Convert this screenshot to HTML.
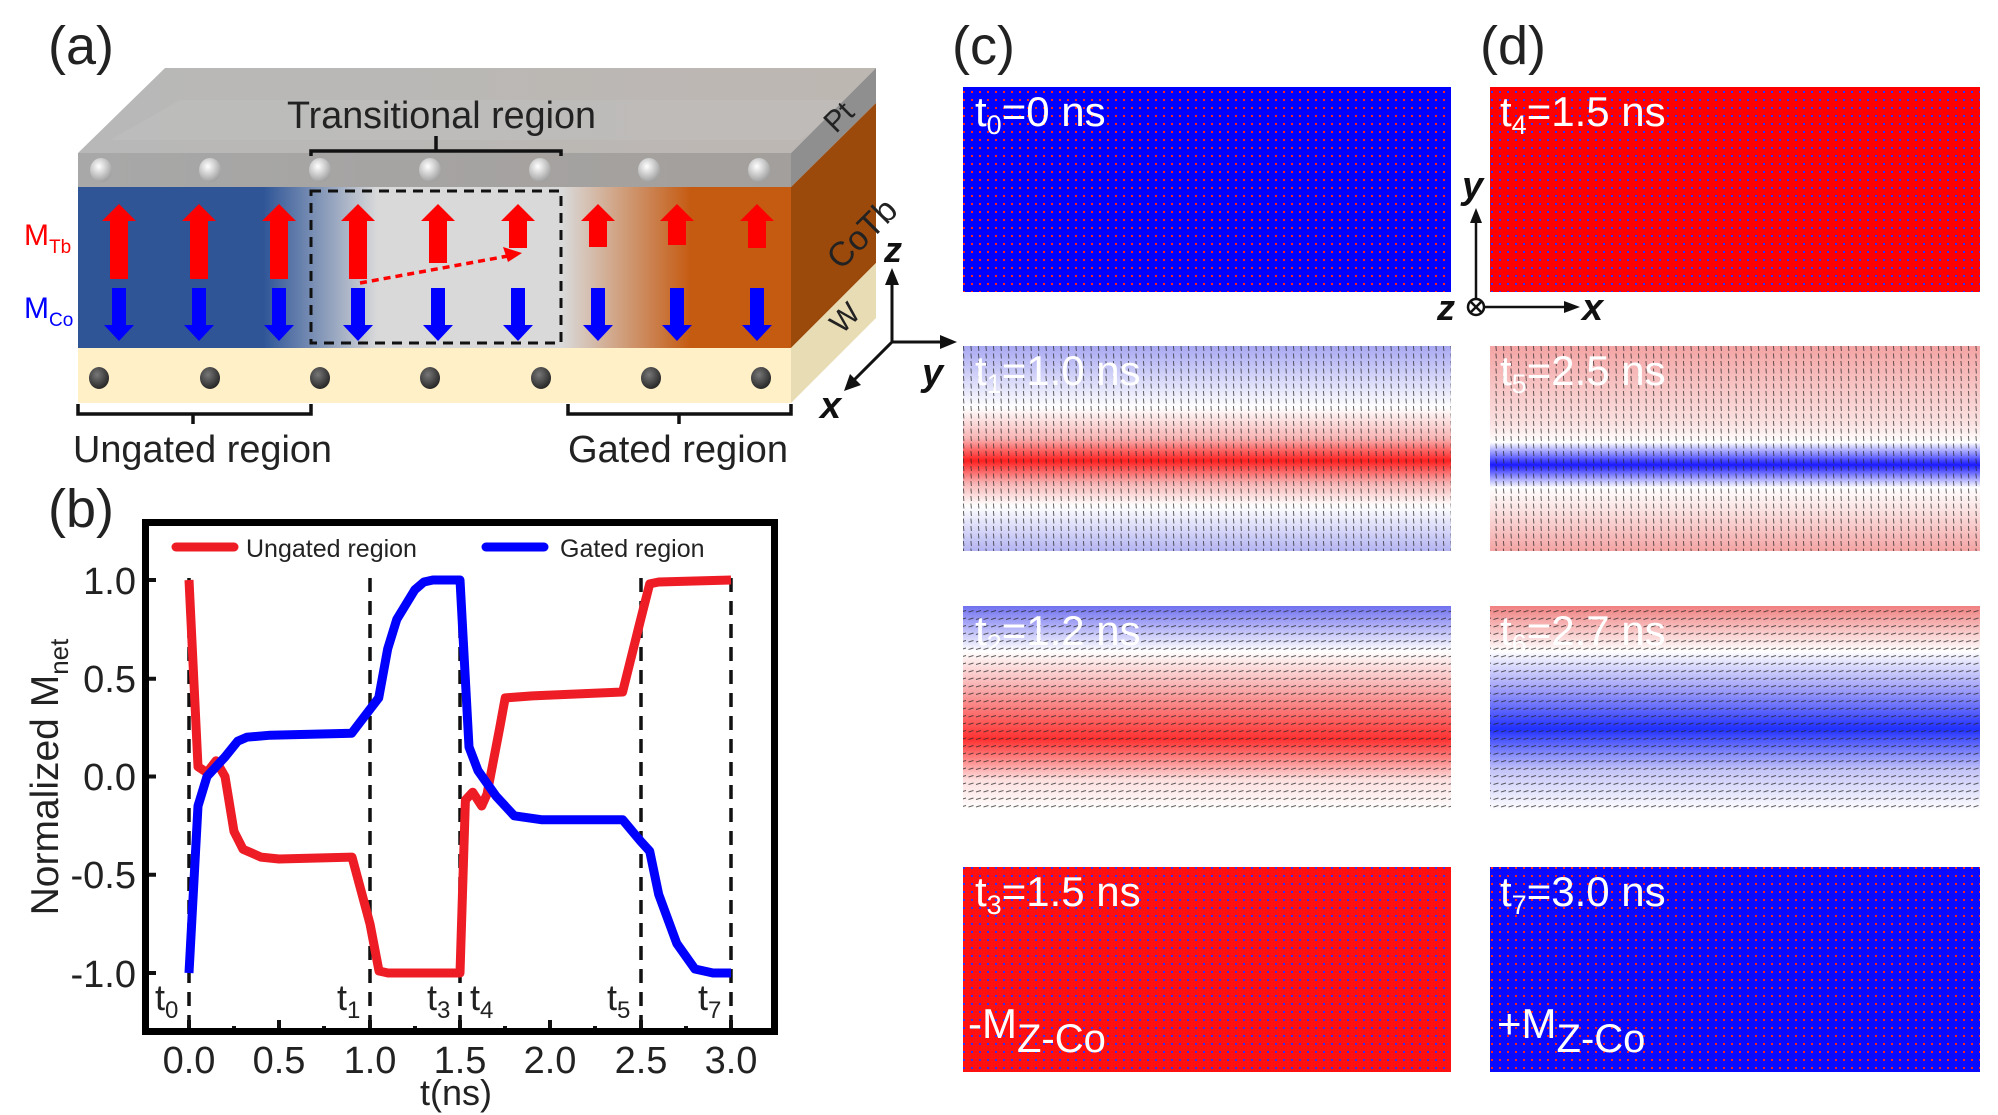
<!DOCTYPE html>
<html><head><meta charset="utf-8"><style>
html,body{margin:0;padding:0;background:#fff}
svg{display:block}
text{font-family:"Liberation Sans",sans-serif}
</style></head><body>
<svg width="1998" height="1115" viewBox="0 0 1998 1115" xmlns="http://www.w3.org/2000/svg">
<defs>
<linearGradient id="front" x1="78" y1="0" x2="791" y2="0" gradientUnits="userSpaceOnUse">
<stop offset="0" stop-color="#2f5597"/><stop offset="0.26" stop-color="#2f5597"/>
<stop offset="0.42" stop-color="#d9d9d9"/><stop offset="0.68" stop-color="#d9d9d9"/>
<stop offset="0.86" stop-color="#c55a11"/><stop offset="1" stop-color="#c55a11"/></linearGradient>
<linearGradient id="ptf" x1="0" y1="0" x2="1" y2="0"><stop offset="0" stop-color="#a8a8a8"/><stop offset="1" stop-color="#a39f9c"/></linearGradient>
<linearGradient id="topf" x1="0" y1="0" x2="1" y2="0"><stop offset="0" stop-color="#b8b8b8"/><stop offset="1" stop-color="#bdb7b2"/></linearGradient>
<radialGradient id="ballw" cx="0.4" cy="0.35" r="0.7"><stop offset="0" stop-color="#fff"/><stop offset="1" stop-color="#9a9a9a"/></radialGradient>
<radialGradient id="balld" cx="0.4" cy="0.35" r="0.7"><stop offset="0" stop-color="#777"/><stop offset="1" stop-color="#222"/></radialGradient>
<pattern id="pr" width="8" height="8" patternUnits="userSpaceOnUse"><rect x="3" y="3" width="2" height="2" fill="#ff2020"/></pattern>
<pattern id="pb" width="8" height="8" patternUnits="userSpaceOnUse"><rect x="3" y="3" width="2" height="2" fill="#3030ff"/></pattern>
<pattern id="pk" width="7.5" height="7.5" patternUnits="userSpaceOnUse"><line x1="3.4" y1="1" x2="3.9" y2="6" stroke="#222" stroke-width="1" opacity="0.7"/></pattern>
<pattern id="pk2" width="7.5" height="7.5" patternUnits="userSpaceOnUse"><line x1="1" y1="4.5" x2="6" y2="3" stroke="#222" stroke-width="1" opacity="0.7"/></pattern>
<linearGradient id="g1" x1="0" y1="0" x2="0" y2="1"><stop offset="0" stop-color="#a8a8f2"/><stop offset="0.3" stop-color="#fff"/><stop offset="0.45" stop-color="#f8b4b4"/><stop offset="0.56" stop-color="#ff2020"/><stop offset="0.67" stop-color="#f8b4b4"/><stop offset="0.78" stop-color="#fff"/><stop offset="1" stop-color="#b4b4f2"/></linearGradient>
<linearGradient id="g5" x1="0" y1="0" x2="0" y2="1"><stop offset="0" stop-color="#f4a4a4"/><stop offset="0.38" stop-color="#fbe2e2"/><stop offset="0.47" stop-color="#fff"/><stop offset="0.58" stop-color="#1a1aff"/><stop offset="0.69" stop-color="#fff"/><stop offset="0.8" stop-color="#fbe2e2"/><stop offset="1" stop-color="#f4a4a4"/></linearGradient>
<linearGradient id="g2" x1="0" y1="0" x2="0" y2="1"><stop offset="0" stop-color="#7070f0"/><stop offset="0.22" stop-color="#fff"/><stop offset="0.42" stop-color="#f8a4a4"/><stop offset="0.65" stop-color="#ff3030"/><stop offset="0.85" stop-color="#fde0e0"/><stop offset="1" stop-color="#fff"/></linearGradient>
<linearGradient id="g6" x1="0" y1="0" x2="0" y2="1"><stop offset="0" stop-color="#f08080"/><stop offset="0.22" stop-color="#fff"/><stop offset="0.42" stop-color="#9898f8"/><stop offset="0.6" stop-color="#2030ff"/><stop offset="0.8" stop-color="#c4c4f8"/><stop offset="1" stop-color="#fff"/></linearGradient>
</defs>

<!-- Panel (a) -->
<text x="48" y="64" font-size="54" fill="#222">(a)</text>
<polygon points="78,153 165,68 876,68 791,153" fill="url(#topf)"/>
<polygon points="110,140 180,100 860,100 800,140" fill="#c4c4c4" opacity="0.35"/>
<polygon points="791,153 876,68 876,103 791,187" fill="#8f8f8f"/>
<polygon points="791,187 876,103 876,263 791,348" fill="#9c4a0c"/>
<polygon points="791,348 876,263 876,318 791,403" fill="#e8dcb5"/>
<rect x="78" y="153" width="713" height="34" fill="url(#ptf)"/>
<rect x="78" y="187" width="713" height="161" fill="url(#front)"/>
<rect x="78" y="348" width="713" height="55" fill="#fff0c8"/>
<g>
<ellipse cx="101" cy="170" rx="11" ry="12" fill="url(#ballw)"/><ellipse cx="210" cy="170" rx="11" ry="12" fill="url(#ballw)"/><ellipse cx="320" cy="170" rx="11" ry="12" fill="url(#ballw)"/><ellipse cx="430" cy="170" rx="11" ry="12" fill="url(#ballw)"/><ellipse cx="540" cy="170" rx="11" ry="12" fill="url(#ballw)"/><ellipse cx="649" cy="170" rx="11" ry="12" fill="url(#ballw)"/><ellipse cx="759" cy="170" rx="11" ry="12" fill="url(#ballw)"/>
<ellipse cx="99" cy="378" rx="10" ry="11" fill="url(#balld)"/><ellipse cx="210" cy="378" rx="10" ry="11" fill="url(#balld)"/><ellipse cx="320" cy="378" rx="10" ry="11" fill="url(#balld)"/><ellipse cx="430" cy="378" rx="10" ry="11" fill="url(#balld)"/><ellipse cx="541" cy="378" rx="10" ry="11" fill="url(#balld)"/><ellipse cx="651" cy="378" rx="10" ry="11" fill="url(#balld)"/><ellipse cx="761" cy="378" rx="10" ry="11" fill="url(#balld)"/>
</g>
<g fill="#ff0000">
<polygon points="110,279 128,279 128,221 136,221 119,204 102,221 110,221"/>
<polygon points="190,279 208,279 208,221 216,221 199,204 182,221 190,221"/>
<polygon points="270,279 288,279 288,221 296,221 279,204 262,221 270,221"/>
<polygon points="349,279 367,279 367,221 375,221 358,204 341,221 349,221"/>
<polygon points="429,263 447,263 447,221 455,221 438,204 421,221 429,221"/>
<polygon points="509,248 527,248 527,221 535,221 518,204 501,221 509,221"/>
<polygon points="589,247 607,247 607,221 615,221 598,204 581,221 589,221"/>
<polygon points="668,245 686,245 686,221 694,221 677,204 660,221 668,221"/>
<polygon points="748,248 766,248 766,221 774,221 757,204 740,221 748,221"/>
</g>
<g fill="#0000ff">
<polygon points="112,288 126,288 126,325 134,325 119,341 104,325 112,325"/>
<polygon points="192,288 206,288 206,325 214,325 199,341 184,325 192,325"/>
<polygon points="272,288 286,288 286,325 294,325 279,341 264,325 272,325"/>
<polygon points="351,288 365,288 365,325 373,325 358,341 343,325 351,325"/>
<polygon points="431,288 445,288 445,325 453,325 438,341 423,325 431,325"/>
<polygon points="511,288 525,288 525,325 533,325 518,341 503,325 511,325"/>
<polygon points="591,288 605,288 605,325 613,325 598,341 583,325 591,325"/>
<polygon points="670,288 684,288 684,325 692,325 677,341 662,325 670,325"/>
<polygon points="750,288 764,288 764,325 772,325 757,341 742,325 750,325"/>
</g>
<rect x="311" y="191" width="250" height="152" fill="none" stroke="#111" stroke-width="3" stroke-dasharray="10,7"/>
<line x1="360" y1="283" x2="508" y2="256" stroke="#ff0000" stroke-width="3.5" stroke-dasharray="7,5"/>
<polygon points="522,253 503,247 508,262" fill="#ff0000"/>
<text x="287" y="128" font-size="38" fill="#222" textLength="309" lengthAdjust="spacingAndGlyphs">Transitional region</text>
<path d="M311,156 V151 H561 V156 M436,151 V136" fill="none" stroke="#111" stroke-width="3.5"/>
<text x="24" y="245" font-size="30" fill="#ff0000">M<tspan font-size="19" dy="8">Tb</tspan></text>
<text x="24" y="318" font-size="30" fill="#0000ff">M<tspan font-size="19" dy="8">Co</tspan></text>
<text x="825" y="128" font-size="30" fill="#222" transform="rotate(-45 838 118)">Pt</text>
<text x="808" y="258" font-size="34" fill="#222" transform="rotate(-45 840 225)">CoTb</text>
<text x="830" y="330" font-size="30" fill="#222" transform="rotate(-45 842 318)">W</text>
<path d="M78,404 V414 H311 V404 M193,414 V424" fill="none" stroke="#111" stroke-width="3.5"/>
<path d="M568,404 V414 H791 V404 M679,414 V424" fill="none" stroke="#111" stroke-width="3.5"/>
<text x="73" y="462" font-size="38" fill="#222" textLength="259" lengthAdjust="spacingAndGlyphs">Ungated region</text>
<text x="568" y="462" font-size="38" fill="#222" textLength="220" lengthAdjust="spacingAndGlyphs">Gated region</text>
<g stroke="#111" stroke-width="3" fill="none">
<line x1="892" y1="342" x2="892" y2="282"/><line x1="892" y1="342" x2="945" y2="342"/><line x1="892" y1="342" x2="852" y2="382"/>
</g>
<polygon points="892,268 885,285 899,285" fill="#111"/>
<polygon points="957,342 940,335 940,349" fill="#111"/>
<polygon points="844,391 850,374 861,385" fill="#111"/>
<text x="884" y="262" font-family="Liberation Serif" font-style="italic" font-weight="bold" font-size="36" fill="#111">z</text>
<text x="922" y="385" font-family="Liberation Serif" font-style="italic" font-weight="bold" font-size="38" fill="#111">y</text>
<text x="820" y="418" font-family="Liberation Serif" font-style="italic" font-weight="bold" font-size="38" fill="#111">x</text>

<!-- Panel (b) -->
<text x="48" y="527" font-size="54" fill="#222">(b)</text>
<g stroke="#111" stroke-width="3.5" stroke-dasharray="14,9">
<line x1="189" y1="578" x2="189" y2="1030"/><line x1="370" y1="578" x2="370" y2="1030"/><line x1="460" y1="578" x2="460" y2="1030"/><line x1="641" y1="578" x2="641" y2="1030"/><line x1="731" y1="578" x2="731" y2="1030"/>
</g>
<g stroke="#111" stroke-width="4">
<line x1="189" y1="1031" x2="189" y2="1020"/><line x1="279" y1="1031" x2="279" y2="1020"/><line x1="370" y1="1031" x2="370" y2="1020"/><line x1="460" y1="1031" x2="460" y2="1020"/><line x1="550" y1="1031" x2="550" y2="1020"/><line x1="641" y1="1031" x2="641" y2="1020"/><line x1="731" y1="1031" x2="731" y2="1020"/>
<line x1="234" y1="1031" x2="234" y2="1026"/><line x1="324" y1="1031" x2="324" y2="1026"/><line x1="415" y1="1031" x2="415" y2="1026"/><line x1="505" y1="1031" x2="505" y2="1026"/><line x1="595" y1="1031" x2="595" y2="1026"/><line x1="686" y1="1031" x2="686" y2="1026"/>
<line x1="146" y1="580" x2="156" y2="580"/><line x1="146" y1="678.75" x2="156" y2="678.75"/><line x1="146" y1="776.5" x2="156" y2="776.5"/><line x1="146" y1="874.75" x2="156" y2="874.75"/><line x1="146" y1="973" x2="156" y2="973"/>
</g>
<polyline fill="none" stroke="#ee1c25" stroke-width="9" stroke-linejoin="round" points="189,580 198,766.7 207,772.6 216,760.8 225,776.5 234,831.5 243,849.2 261,857.1 279,859 352,857.1 370,923.9 379,971 388,973 460,973 465.4,800.1 472.7,792.2 481.7,806 487,794.2 499.8,727.4 505.2,697.9 532.3,695.9 622.6,692 640.7,619.3 649.7,583.9 658.7,582 731,580"/>
<polyline fill="none" stroke="#0000ff" stroke-width="9" stroke-linejoin="round" points="189,973 198,806 207,776.5 225,756.9 237.8,741.1 246.8,737.2 270.3,735.2 351.6,733.3 378.7,697.9 387.7,648.8 396.8,619.3 414.8,589.8 423.9,582 432.9,580 460,580 469,747 478,770.6 496.1,796.2 514.2,815.8 541.3,819.7 622.6,819.7 640.7,841.3 649.7,851.2 658.7,894.4 676.8,943.5 694.9,969 713,973 731,973"/>
<rect x="145.5" y="522.5" width="629" height="509" fill="none" stroke="#000" stroke-width="7"/>
<line x1="176" y1="547" x2="234" y2="547" stroke="#ee1c25" stroke-width="9" stroke-linecap="round"/>
<text x="246" y="557" font-size="25" fill="#222">Ungated region</text>
<line x1="486" y1="547" x2="544" y2="547" stroke="#0000ff" stroke-width="9" stroke-linecap="round"/>
<text x="560" y="557" font-size="25" fill="#222">Gated region</text>
<g font-size="38" fill="#222" text-anchor="end">
<text x="136" y="594">1.0</text><text x="136" y="692">0.5</text><text x="136" y="790">0.0</text><text x="136" y="888">-0.5</text><text x="136" y="987">-1.0</text>
</g>
<g font-size="38" fill="#222" text-anchor="middle">
<text x="189" y="1073">0.0</text><text x="279" y="1073">0.5</text><text x="370" y="1073">1.0</text><text x="460" y="1073">1.5</text><text x="550" y="1073">2.0</text><text x="641" y="1073">2.5</text><text x="731" y="1073">3.0</text>
<text x="456" y="1105" font-size="36">t(ns)</text>
</g>
<text transform="translate(58 777) rotate(-90)" text-anchor="middle" font-size="39" fill="#222">Normalized M<tspan font-size="26" dy="10">net</tspan></text>
<g font-size="36" fill="#222">
<text x="155" y="1010">t<tspan font-size="24" dy="8">0</tspan></text>
<text x="337" y="1010">t<tspan font-size="24" dy="8">1</tspan></text>
<text x="427" y="1010">t<tspan font-size="24" dy="8">3</tspan></text>
<text x="470" y="1010">t<tspan font-size="24" dy="8">4</tspan></text>
<text x="607" y="1010">t<tspan font-size="24" dy="8">5</tspan></text>
<text x="698" y="1010">t<tspan font-size="24" dy="8">7</tspan></text>
</g>

<!-- Panels (c),(d) -->
<text x="952" y="64" font-size="54" fill="#222">(c)</text>
<text x="1480" y="64" font-size="54" fill="#222">(d)</text>
<rect x="963" y="87" width="488" height="205" fill="#0000ff"/><rect x="963" y="87" width="488" height="205" fill="url(#pr)"/>
<rect x="1490" y="87" width="490" height="205" fill="#ff0000"/><rect x="1490" y="87" width="490" height="205" fill="url(#pb)"/>
<rect x="963" y="346" width="488" height="205" fill="url(#g1)"/><rect x="963" y="346" width="488" height="205" fill="url(#pk)"/>
<rect x="1490" y="346" width="490" height="205" fill="url(#g5)"/><rect x="1490" y="346" width="490" height="205" fill="url(#pk)"/>
<rect x="963" y="606" width="488" height="205" fill="url(#g2)"/><rect x="963" y="606" width="488" height="205" fill="url(#pk2)"/>
<rect x="1490" y="606" width="490" height="205" fill="url(#g6)"/><rect x="1490" y="606" width="490" height="205" fill="url(#pk2)"/>
<rect x="963" y="867" width="488" height="205" fill="#ff1010"/><rect x="963" y="867" width="488" height="205" fill="url(#pb)"/>
<rect x="1490" y="867" width="490" height="205" fill="#0a0aff"/><rect x="1490" y="867" width="490" height="205" fill="url(#pr)"/>
<g font-size="42" fill="#fff">
<text x="975" y="126">t<tspan font-size="27" dy="8">0</tspan><tspan dy="-8">=0 ns</tspan></text>
<text x="1500" y="126">t<tspan font-size="27" dy="8">4</tspan><tspan dy="-8">=1.5 ns</tspan></text>
<text x="975" y="385">t<tspan font-size="27" dy="8">1</tspan><tspan dy="-8">=1.0 ns</tspan></text>
<text x="1500" y="385">t<tspan font-size="27" dy="8">5</tspan><tspan dy="-8">=2.5 ns</tspan></text>
<text x="975" y="645">t<tspan font-size="27" dy="8">2</tspan><tspan dy="-8">=1.2 ns</tspan></text>
<text x="1500" y="645">t<tspan font-size="27" dy="8">6</tspan><tspan dy="-8">=2.7 ns</tspan></text>
<text x="975" y="906">t<tspan font-size="27" dy="8">3</tspan><tspan dy="-8">=1.5 ns</tspan></text>
<text x="1500" y="906">t<tspan font-size="27" dy="8">7</tspan><tspan dy="-8">=3.0 ns</tspan></text>
<text x="968" y="1038">-M<tspan font-size="40" dy="14">Z-Co</tspan></text>
<text x="1497" y="1038">+M<tspan font-size="40" dy="14">Z-Co</tspan></text>
</g>
<line x1="1476" y1="298" x2="1476" y2="220" stroke="#111" stroke-width="2.5"/>
<polygon points="1476,208 1470,223 1482,223" fill="#111"/>
<line x1="1484" y1="307" x2="1565" y2="307" stroke="#111" stroke-width="2.5"/>
<polygon points="1580,307 1564,301 1564,313" fill="#111"/>
<circle cx="1476" cy="307" r="8" fill="#fff" stroke="#111" stroke-width="2.5"/>
<path d="M1471,302 L1481,312 M1481,302 L1471,312" stroke="#111" stroke-width="2.5"/>
<text x="1437" y="320" font-family="Liberation Serif" font-style="italic" font-weight="bold" font-size="36" fill="#111">z</text>
<text x="1462" y="198" font-family="Liberation Serif" font-style="italic" font-weight="bold" font-size="38" fill="#111">y</text>
<text x="1582" y="320" font-family="Liberation Serif" font-style="italic" font-weight="bold" font-size="38" fill="#111">x</text>
</svg>
</body></html>
